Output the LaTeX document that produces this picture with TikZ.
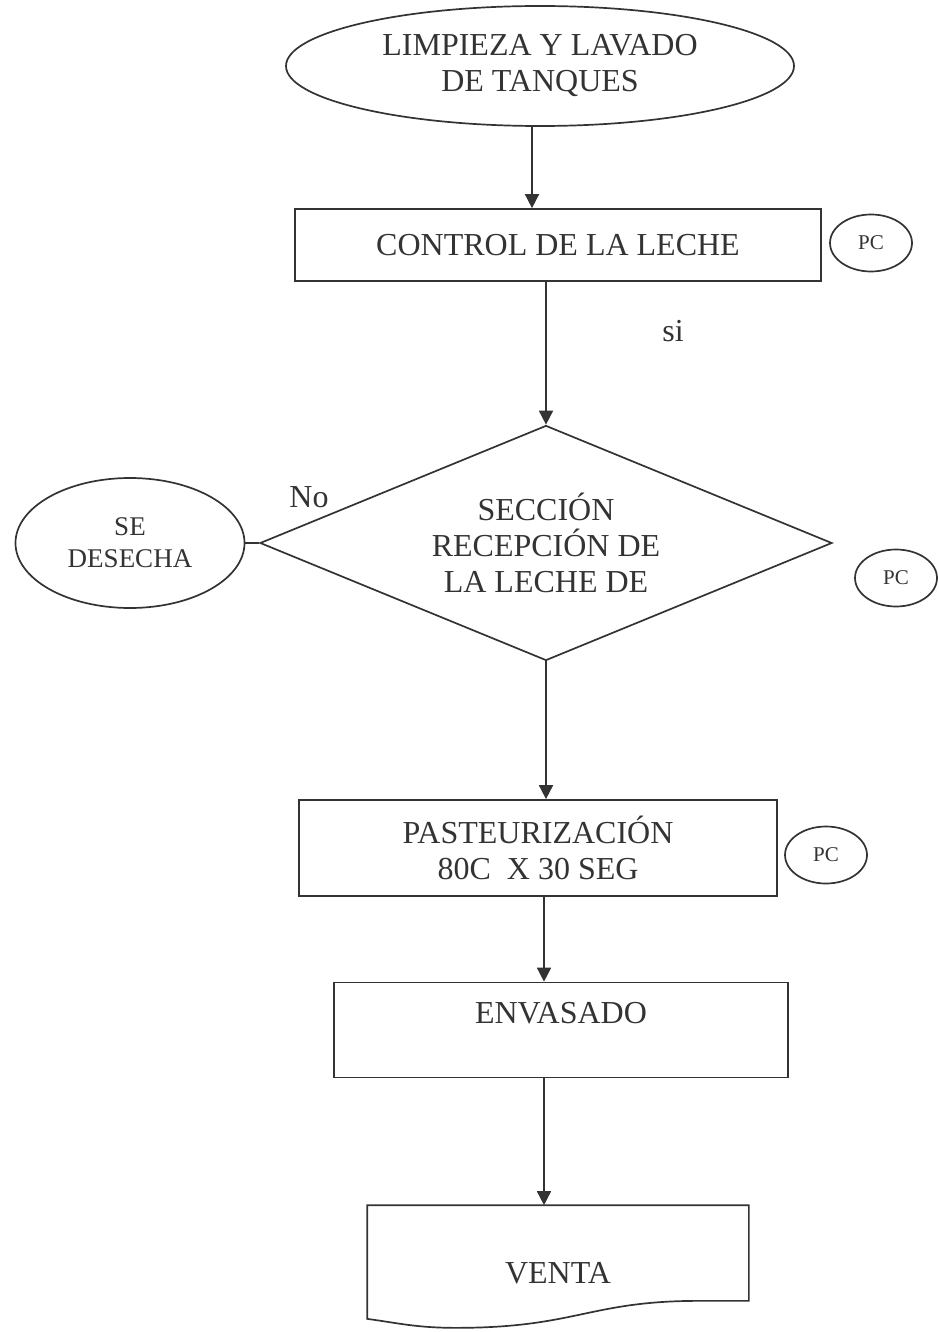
\documentclass[tikz,border=0pt]{standalone}
\usepackage{fontspec}
\setmainfont{Liberation Serif}
\usetikzlibrary{shapes.geometric, arrows.meta}
\tikzset{
	inicio/.style={draw, ellipse, inner sep=0pt, minimum width=254pt, minimum height=60pt, align=center, font=\fontsize{16}{18}\selectfont},
	proceso/.style={draw, rectangle, inner sep=0pt, align=center, font=\fontsize{16}{18}\selectfont},
	decision/.style={draw, diamond, inner sep=0pt, shape aspect=2.4, minimum width=286pt, minimum height=117.5pt, align=center, font=\fontsize{16}{18}\selectfont},
	desecho/.style={draw, ellipse, inner sep=0pt, minimum width=114.5pt, minimum height=65pt, align=center, font=\fontsize{13.5}{16}\selectfont},
	% puntos de control a la derecha
	pc/.style={draw, ellipse, inner sep=0pt, minimum width=41pt, minimum height=28.5pt, font=\fontsize{10.5}{11}\selectfont},
	etiqueta/.style={inner sep=0pt, font=\fontsize{16}{18}\selectfont},
}
\begin{document}
\begin{tikzpicture}[x=0.5pt, y=-0.5pt, line width=0.85pt, color=black!80]
	\useasboundingbox (0,0) rectangle (938,1332);
	
	\coordinate (eje) at (544,0);
	
	\node (ini) [inicio] at (540,66) {LIMPIEZA Y LAVADO\\DE TANQUES};
	
	\node (ctrl) [proceso, minimum width=263pt, minimum height=36pt] at (558,245) {CONTROL DE LA LECHE};
	\node (pc1) [pc] at (871,243) {PC};
	
	\node (si) [etiqueta] at (673,331) {si};
	
	\node (dec) [decision] at (546,543) {SECCIÓN\\RECEPCIÓN DE\\LA LECHE DE};
	\node (des) [desecho] at (130,543) {SE\\DESECHA};
	\node (no) [etiqueta] at (309,497) {No};
	\node (pc2) [pc] at (896,578) {PC};
	
	\node (past) [proceso, minimum width=239pt, minimum height=48pt] at (538,848) {PASTEURIZACIÓN\\80C\ \ X 30 SEG};
	\node (pc3) [pc] at (826,855) {PC};
	
	\node (env) [proceso, minimum width=227pt, minimum height=47.5pt, text height=11pt, text depth=18pt] at (561,1030) {ENVASADO};
	
	\node (vta) [etiqueta, minimum width=190pt, minimum height=56pt, text height=21pt, text depth=0pt] at (558,1262) {VENTA};
	\draw (vta.north west) -- (vta.north east) -- ([yshift=9pt]vta.south east) -- ++(-25pt,0pt)
		.. controls +(-55pt,0pt) and +(60pt,0pt) .. ([xshift=44.5pt,yshift=-4.5pt]vta.south west)
		.. controls +(-20pt,0pt) and +(15pt,-2pt) .. (vta.south west) -- cycle;
	
	\begin{scope}[->, >={Triangle[length=7pt, width=7pt]}]
		\draw ([xshift=-4pt]ini.south) -- ([xshift=-4pt]ini.south |- ctrl.north);
		\draw (ctrl.south -| dec.north) -- (dec.north);
		\draw (dec.south) -- (dec.south |- past.north);
		\draw (past.south -| eje) -- (env.north -| eje);
		\draw (env.south -| eje) -- (vta.north -| eje);
	\end{scope}
	\draw (des.east) -- (dec.west);
	
\end{tikzpicture}
\end{document}
